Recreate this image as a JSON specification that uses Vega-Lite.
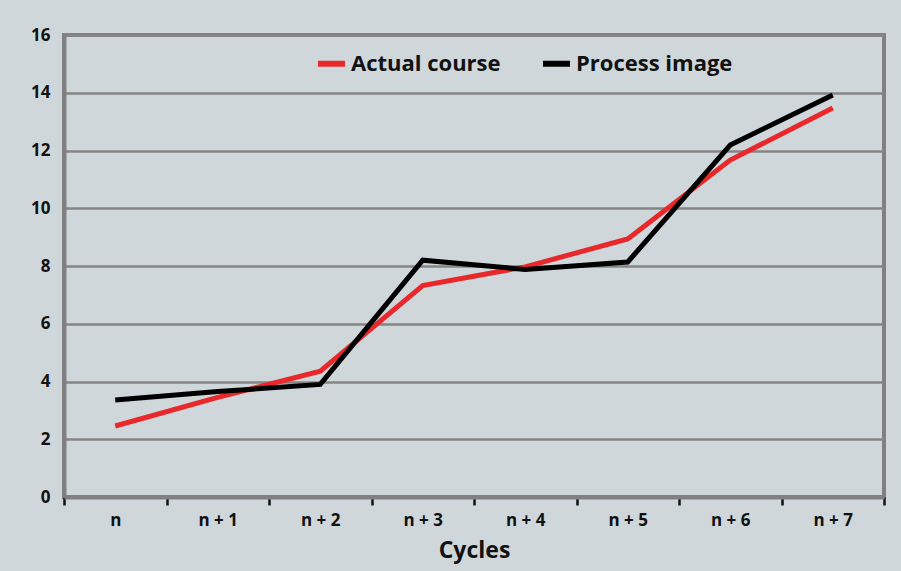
{
  "$schema": "https://vega.github.io/schema/vega-lite/v6.json",
  "width": 820,
  "height": 462,
  "autosize": {"type": "none"},
  "padding": {"left": 64, "top": 35, "right": 17, "bottom": 74},
  "background": "#cfd7db",
  "config": {
    "view": {"stroke": "#808080", "strokeWidth": 4, "fill": "#cfd7db"},
    "font": "Open Sans"
  },
  "data": {
    "values": [
      {"cycle": "n", "series": "Actual course", "value": 2.46},
      {"cycle": "n + 1", "series": "Actual course", "value": 3.45},
      {"cycle": "n + 2", "series": "Actual course", "value": 4.36},
      {"cycle": "n + 3", "series": "Actual course", "value": 7.32},
      {"cycle": "n + 4", "series": "Actual course", "value": 7.97},
      {"cycle": "n + 5", "series": "Actual course", "value": 8.94},
      {"cycle": "n + 6", "series": "Actual course", "value": 11.67},
      {"cycle": "n + 7", "series": "Actual course", "value": 13.47},
      {"cycle": "n", "series": "Process image", "value": 3.36},
      {"cycle": "n + 1", "series": "Process image", "value": 3.65},
      {"cycle": "n + 2", "series": "Process image", "value": 3.9},
      {"cycle": "n + 3", "series": "Process image", "value": 8.2},
      {"cycle": "n + 4", "series": "Process image", "value": 7.88},
      {"cycle": "n + 5", "series": "Process image", "value": 8.14},
      {"cycle": "n + 6", "series": "Process image", "value": 12.19},
      {"cycle": "n + 7", "series": "Process image", "value": 13.92}
    ]
  },
  "mark": {"type": "line", "strokeWidth": 5},
  "encoding": {
    "x": {
      "field": "cycle",
      "type": "ordinal",
      "scale": {"type": "band", "paddingInner": 0, "paddingOuter": 0},
      "axis": {
        "title": "Cycles",
        "titleFont": "Open Sans",
        "titleFontSize": 23,
        "titleFontWeight": "bold",
        "titleColor": "#111111",
        "titlePadding": 11,
        "labelAngle": 0,
        "labelFont": "Open Sans",
        "labelFontSize": 17,
        "labelFontWeight": "bold",
        "labelColor": "#111111",
        "labelPadding": 7,
        "tickBand": "extent",
        "ticks": true,
        "tickColor": "#111111",
        "tickWidth": 2.5,
        "tickSize": 8,
        "domainColor": "#808080",
        "domainWidth": 4,
        "grid": false
      }
    },
    "y": {
      "field": "value",
      "type": "quantitative",
      "scale": {"domain": [0, 16], "nice": false},
      "axis": {
        "title": null,
        "values": [0, 2, 4, 6, 8, 10, 12, 14, 16],
        "labelFont": "Open Sans",
        "labelFontSize": 17,
        "labelFontWeight": "bold",
        "labelColor": "#111111",
        "labelPadding": 14,
        "ticks": false,
        "domainColor": "#808080",
        "domainWidth": 4,
        "grid": true,
        "gridColor": "#858585",
        "gridWidth": 2.5
      }
    },
    "color": {
      "field": "series",
      "type": "nominal",
      "scale": {"domain": ["Actual course", "Process image"], "range": ["#e8282a", "#000000"]},
      "legend": {
        "title": null,
        "orient": "none",
        "legendX": 251,
        "legendY": 12,
        "direction": "horizontal",
        "symbolType": "stroke",
        "symbolStrokeWidth": 6,
        "symbolSize": 729,
        "labelFont": "Open Sans",
        "labelFontSize": 22,
        "labelFontWeight": "bold",
        "labelColor": "#111111",
        "labelOffset": 3,
        "columnPadding": 30,
        "labelLimit": 300
      }
    }
  }
}
